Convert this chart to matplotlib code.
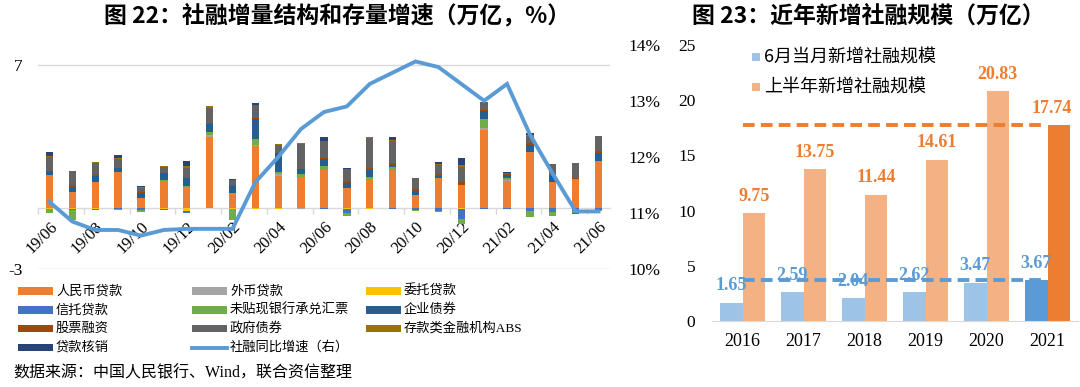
import numpy as np
import matplotlib
matplotlib.use('Agg')
import matplotlib.pyplot as plt
from matplotlib.patches import Rectangle
from matplotlib.lines import Line2D

plt.rcParams['font.family'] = ['Liberation Serif', 'Noto Sans CJK SC', 'DejaVu Sans']
plt.rcParams['axes.unicode_minus'] = False

# ---- 图22 数据（万亿元 / %）----
months = ['19/06', '19/07', '19/08', '19/09', '19/10', '19/11', '19/12',
          '20/01', '20/02', '20/03', '20/04', '20/05', '20/06', '20/07',
          '20/08', '20/09', '20/10', '20/11', '20/12', '21/01', '21/02',
          '21/03', '21/04', '21/05', '21/06']
rmb = [1.61, 0.77, 1.29, 1.74, 0.49, 1.34, 1.04, 3.49, 0.72, 3.02, 1.58, 1.53, 1.86,
       0.98, 1.42, 1.86, 0.64, 1.47, 1.11, 3.81, 1.34, 2.75, 1.26, 1.42, 2.28]
foreign = [-0.01, -0.01, 0, 0, 0, 0, -0.01, 0.08, 0, 0.06, 0.08, -0.04, 0,
           0, 0, 0, 0, 0, 0, 0.1, 0.05, 0, 0, 0, 0]
entrusted = [-0.04, -0.05, -0.03, -0.01, -0.02, -0.05, -0.16, 0, -0.04, -0.04, -0.04, 0, 0,
             -0.04, -0.03, 0, 0, 0, -0.06, 0, 0, 0, 0, 0, 0]
trust = [0, -0.05, -0.05, -0.06, -0.08, -0.07, -0.06, 0, -0.02, -0.02, -0.02, -0.02, -0.06,
         -0.2, -0.02, -0.07, -0.1, -0.15, -0.5, -0.03, -0.05, -0.16, -0.18, -0.15, -0.1]
undisc = [-0.18, -0.5, -0.02, -0.03, -0.1, 0.05, 0.06, 0.13, -0.54, 0.29, 0.08, 0.13, 0.2,
          -0.15, 0.11, 0.16, -0.05, -0.05, -0.2, 0.47, 0.07, -0.26, -0.23, -0.1, -0.05]
corp = [0.18, 0.28, 0.29, 0.21, 0.24, 0.31, 0.36, 0.41, 0.37, 1.01, 0.93, 0.24, 0.33,
        0.24, 0.34, 0.1, 0.21, 0.1, -0.02, 0.36, 0.16, 0.34, 0.33, -0.03, 0.41]
stock = [0.03, 0.06, 0.03, 0.02, 0.03, 0.03, 0.03, 0.06, 0.02, 0.03, 0.02, 0.02, 0.05,
         0.1, 0.1, 0.1, 0.08, 0.1, 0.15, 0.08, 0.05, 0.1, 0.02, 0.03, 0.1]
gov = [0.68, 0.68, 0.6, 0.44, 0.24, 0.26, 0.49, 0.72, 0.24, 0.62, 0.41, 1.22, 0.82,
       0.57, 1.47, 1.06, 0.54, 0.46, 0.73, 0.35, 0.06, 0.36, 0.54, 0.75, 0.75]
abs_ = [0.04, 0.02, 0.03, 0.02, 0.05, 0.06, 0.06, 0.08, 0.03, 0.02, 0.02, 0.02, 0.02,
        0.02, 0.05, 0.05, 0.02, 0.04, 0.13, 0.03, 0, 0.02, 0, 0, 0]
writeoff = [0.18, 0, 0.02, 0.16, 0.03, 0.02, 0.26, 0, 0.02, 0.11, 0, 0, 0.2,
            0.05, 0, 0.16, 0, 0.1, 0.31, 0, 0.04, 0.08, 0, 0, 0]
growth = [11.2, 10.85, 10.7, 10.7, 10.6, 10.7, 10.72, 10.72, 10.72, 11.55, 12.0, 12.5, 12.8,
          12.9, 13.3, 13.5, 13.7, 13.6, 13.3, 13.0, 13.3, 12.4, 11.7, 11.03, 11.03]

series_names = ['人民币贷款', '外币贷款', '委托贷款', '信托贷款', '未贴现银行承兑汇票',
                '企业债券', '股票融资', '政府债券', '存款类金融机构ABS', '贷款核销']
series = [rmb, foreign, entrusted, trust, undisc, corp, stock, gov, abs_, writeoff]
colors = ['#ED7D31', '#A5A5A5', '#FFC000', '#4472C4', '#70AD47',
          '#255E91', '#9E480E', '#636363', '#997300', '#264478']
line_name = '社融同比增速（右）'
line_color = '#5B9BD5'

# ---- 图23 数据 ----
years = ['2016', '2017', '2018', '2019', '2020', '2021']
june_new = [1.65, 2.59, 2.04, 2.62, 3.47, 3.67]
half_new = [9.75, 13.75, 11.44, 14.61, 20.83, 17.74]

W, H = 1080, 387
fig = plt.figure(figsize=(W / 100, H / 100), dpi=100)


def fx(px):
    return px / W


def fy(py):
    return 1 - py / H


# ================= 左图 =================
ax1 = fig.add_axes([fx(38), fy(269.3), fx(610) - fx(38), fy(44.6) - fy(269.3)])
x = np.arange(len(months))
pos = np.zeros(len(months))
neg = np.zeros(len(months))
for vals, c in zip(series, colors):
    v = np.array(vals, dtype=float)
    base = np.where(v >= 0, pos, neg)
    ax1.bar(x, v, 0.32, bottom=base, color=c, linewidth=0, zorder=3)
    pos += np.clip(v, 0, None)
    neg += np.clip(v, None, 0)

ax1.set_xlim(-0.5, len(months) - 0.5)
ax1.set_ylim(-3, 8)
ax1.set_yticks([-3, 7])
ax1.set_yticklabels(['-3', '7'], fontsize=12.5)
ax1.tick_params(axis='y', length=0, pad=11)
for yv in [-3, 7]:
    ax1.axhline(yv, color='#d9d9d9', lw=1, zorder=1)
for s in ['top', 'left', 'right']:
    ax1.spines[s].set_visible(False)
ax1.spines['bottom'].set_position(('data', 0))
ax1.spines['bottom'].set_color('#d9d9d9')
ax1.spines['bottom'].set_linewidth(1)
ax1.spines['bottom'].set_zorder(2)
ax1.set_xticks(x[::2])
ax1.set_xticklabels(months[::2], rotation=45, ha='right', va='top',
                    rotation_mode='anchor', fontsize=12)
ax1.tick_params(axis='x', which='major', length=0, pad=8)
ax1.set_xticks(np.arange(-0.5, len(months) - 1, 2), minor=True)
ax1.tick_params(axis='x', which='minor', length=4, color='#d9d9d9', width=1)

ax2 = ax1.twinx()
ax2.set_ylim(10, 14)
ax2.set_yticks([10, 11, 12, 13, 14])
ax2.set_yticklabels([f'{v}%' for v in [10, 11, 12, 13, 14]], fontsize=12.5)
ax2.tick_params(axis='y', length=0, pad=13)
for s in ['top', 'left', 'right', 'bottom']:
    ax2.spines[s].set_visible(False)
ax2.plot(x, growth, color=line_color, lw=2.8, solid_joinstyle='miter', zorder=5)

# 左图图例（3列）
col_x = [18, 192, 366]
row_y = [291, 310, 328.5, 347.5]
entries = list(zip(series_names, colors)) + [(line_name, None)]
for i, (name, c) in enumerate(entries):
    r, cidx = divmod(i, 3)
    x0 = col_x[cidx]
    y0 = row_y[r]
    if c is None:
        fig.add_artist(Line2D([fx(x0), fx(x0 + 35)], [fy(y0), fy(y0)],
                              color=line_color, lw=2.8, transform=fig.transFigure))
    else:
        fig.add_artist(Rectangle((fx(x0), fy(y0 + 3.6)), fx(35), 7.2 / H,
                                 color=c, transform=fig.transFigure, lw=0))
    fig.text(fx(x0 + 38), fy(y0), name, fontsize=9.5, va='center', ha='left')

fig.text(fx(13), fy(373), '数据来源：中国人民银行、Wind，联合资信整理',
         fontsize=11.5, va='center', ha='left')
fig.text(fx(337), fy(16), '图 22：社融增量结构和存量增速（万亿，%）',
         fontsize=16.5, fontweight='bold', va='center', ha='center',
         family=['Noto Sans CJK SC', 'DejaVu Sans'])

# ================= 右图 =================
ax3 = fig.add_axes([fx(712), fy(321), fx(1078) - fx(712), fy(45) - fy(321)])
xr = np.arange(len(years))
bw = 0.37
c_blue = ['#9DC3E6'] * (len(years) - 1) + ['#5B9BD5']
c_orange = ['#F4B183'] * (len(years) - 1) + ['#ED7D31']
ax3.bar(xr - bw / 2, june_new, bw, color=c_blue, linewidth=0, zorder=2)
ax3.bar(xr + bw / 2, half_new, bw, color=c_orange, linewidth=0, zorder=2)
for i in range(len(years)):
    ax3.annotate(f'{june_new[i]:.2f}', (xr[i] - bw / 2, june_new[i]), xytext=(0, 6),
                 textcoords='offset points', ha='center', va='bottom',
                 fontsize=13, fontweight='bold', color='#5B9BD5', zorder=4)
    dx = -5 if i == len(years) - 1 else 0
    ax3.annotate(f'{half_new[i]:.2f}', (xr[i] + bw / 2, half_new[i]), xytext=(dx, 6),
                 textcoords='offset points', ha='center', va='bottom',
                 fontsize=13, fontweight='bold', color='#ED7D31', zorder=4)
ax3.plot([0, len(years) - 1.05], [half_new[-1]] * 2, color='#ED7D31', lw=2.8,
         dashes=(3, 1.6), zorder=3)
ax3.plot([0, len(years) - 1.05], [june_new[-1]] * 2, color='#5B9BD5', lw=2.8,
         dashes=(3, 1.6), zorder=3)
ax3.set_xlim(-0.5, len(years) - 0.5)
ax3.set_ylim(0, 25)
ax3.set_yticks(range(0, 26, 5))
ax3.set_yticklabels([str(v) for v in range(0, 26, 5)], fontsize=12.5)
ax3.set_xticks(xr)
ax3.set_xticklabels(years, fontsize=13)
ax3.tick_params(axis='y', length=0, pad=12)
ax3.tick_params(axis='x', length=0, pad=9)
for s in ['top', 'left', 'right']:
    ax3.spines[s].set_visible(False)
ax3.spines['bottom'].set_color('#d9d9d9')

# 右图图例
leg = [('6月当月新增社融规模', '#9DC3E6', 57), ('上半年新增社融规模', '#F4B183', 87)]
for name, c, yy in leg:
    fig.add_artist(Rectangle((fx(752), fy(yy + 4.2)), fx(8.4), 8.4 / H,
                             color=c, transform=fig.transFigure, lw=0))
    fig.text(fx(764), fy(yy), name, fontsize=13, va='center', ha='left',
             family=['Noto Sans CJK SC', 'DejaVu Sans'])

fig.text(fx(868), fy(16), '图 23：近年新增社融规模（万亿）',
         fontsize=16.5, fontweight='bold', va='center', ha='center',
         family=['Noto Sans CJK SC', 'DejaVu Sans'])

fig.savefig('out.png', dpi=100, facecolor='white')
